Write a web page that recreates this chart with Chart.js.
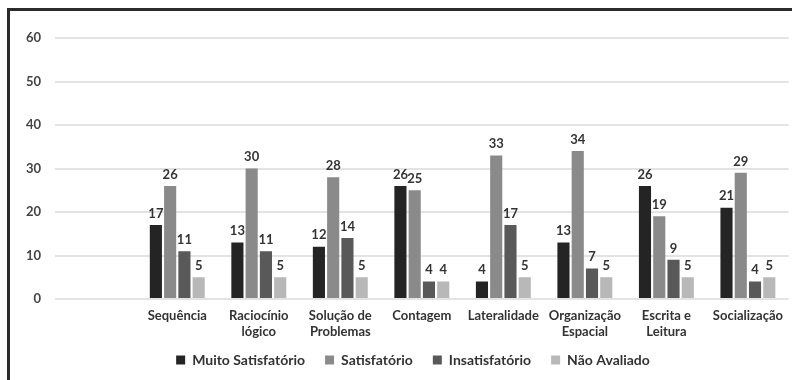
<!DOCTYPE html>
<html>
<head>
<meta charset="utf-8">
<script src="https://cdn.jsdelivr.net/npm/chart.js@4.4.1/dist/chart.umd.min.js"></script>
<style>
  html, body { margin: 0; padding: 0; background: #fff; }
  #wrap { position: relative; width: 792px; height: 380px; overflow: hidden; }
  #frame {
    position: absolute; left: 7px; top: 8px; width: 800px; height: 400px;
    border-left: 3px solid #2b2b2b; border-top: 3px solid #2b2b2b;
    pointer-events: none;
  }
  canvas { position: absolute; left: 0; top: 0; }
</style>
</head>
<body>
<div id="wrap">
  <canvas id="grafico" width="792" height="380"></canvas>
  <div id="frame"></div>
</div>
<script>
// categorias (a primeira fica vazia, como no gráfico original)
const categorias = [
  '',
  'Sequência',
  ['Raciocínio', 'lógico'],
  ['Solução de', 'Problemas'],
  'Contagem',
  'Lateralidade',
  ['Organização', 'Espacial'],
  ['Escrita e', 'Leitura'],
  'Socialização'
];

const muitoSatisfatorio = [null, 17, 13, 12, 26, 4, 13, 26, 21];
const satisfatorio      = [null, 26, 30, 28, 25, 33, 34, 19, 29];
const insatisfatorio    = [null, 11, 11, 14, 4, 17, 7, 9, 4];
const naoAvaliado       = [null, 5, 5, 5, 4, 5, 5, 5, 5];

const ticksY = [0, 10, 20, 30, 40, 50, 60];

const fonte = "'Lato', 'DejaVu Sans', sans-serif";

// desenha o valor em cima de cada barra
const rotulosPlugin = {
  id: 'rotulos',
  afterDatasetsDraw(chart) {
    const ctx = chart.ctx;
    ctx.save();
    ctx.font = 'bold 13px ' + fonte;
    ctx.fillStyle = '#333';
    ctx.textAlign = 'center';
    ctx.textBaseline = 'bottom';
    chart.data.datasets.forEach((ds, i) => {
      const meta = chart.getDatasetMeta(i);
      meta.data.forEach((bar, j) => {
        const v = ds.data[j];
        if (v === null || v === undefined) return;
        ctx.fillText(v, bar.x, bar.y - 5);
      });
    });
    ctx.restore();
  }
};

// legenda um pouco deslocada (direita e para cima), como no original
const legendaPlugin = {
  id: 'legendaDesloc',
  afterLayout(chart) {
    const lg = chart.legend;
    if (!lg) return;
    lg.left += 34;
    lg.top -= 6;
    lg.bottom -= 6;
  }
};

new Chart(document.getElementById('grafico'), {
  type: 'bar',
  data: {
    labels: categorias,
    datasets: [
      { label: 'Muito Satisfatório', data: muitoSatisfatorio, backgroundColor: '#242424' },
      { label: 'Satisfatório', data: satisfatorio, backgroundColor: '#8a8a8a' },
      { label: 'Insatisfatório', data: insatisfatorio, backgroundColor: '#595959' },
      { label: 'Não Avaliado', data: naoAvaliado, backgroundColor: '#b8b8b8' }
    ]
  },
  options: {
    responsive: false,
    animation: false,
    layout: { padding: { top: 38, bottom: -3, left: 0, right: 0 } },
    datasets: {
      bar: { categoryPercentage: 0.7, barPercentage: 0.85 }
    },
    plugins: {
      tooltip: { enabled: false },
      legend: {
        position: 'bottom',
        labels: {
          boxWidth: 9,
          boxHeight: 9,
          padding: 20,
          color: '#333',
          font: { family: fonte, size: 14, weight: 'bold' }
        }
      }
    },
    scales: {
      x: {
        grid: { display: false, drawTicks: false },
        border: { display: false },
        afterFit(scale) { scale.height = 40; },
        ticks: {
          padding: 9,
          maxRotation: 0,
          autoSkip: false,
          color: '#333',
          font: { family: fonte, size: 13, weight: 'bold', lineHeight: 1.2 }
        }
      },
      y: {
        min: 0,
        max: 60,
        afterFit(scale) { scale.width = 55; },
        afterBuildTicks(scale) { scale.ticks = ticksY.map(v => ({ value: v })); },
        grid: { color: '#e3e3e3', lineWidth: 2, drawTicks: false },
        border: { display: false },
        ticks: {
          padding: 14,
          color: '#444',
          font: { family: fonte, size: 13, weight: 'bold' }
        }
      }
    }
  },
  plugins: [rotulosPlugin, legendaPlugin]
});
</script>
</body>
</html>
